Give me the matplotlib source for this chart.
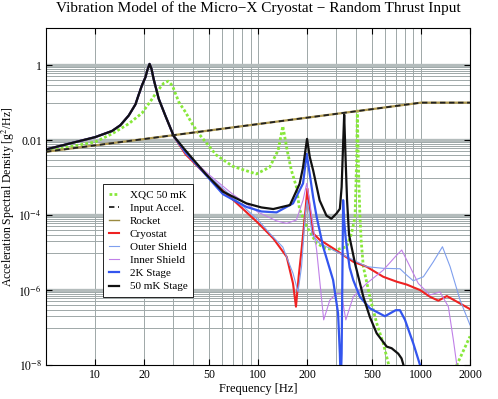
import matplotlib
matplotlib.use("Agg")
import matplotlib.pyplot as plt

plt.rcParams['font.family'] = ['Liberation Serif', 'DejaVu Serif']
plt.rcParams['mathtext.fontset'] = 'stix'

# (Hz, g^2/Hz)
f_input = [5, 20, 100, 500, 1000, 2000]
v_input = [0.0049, 0.0107, 0.0268, 0.067, 0.1, 0.1]

f_rocket = [5, 20, 100, 500, 1000, 2000]
v_rocket = [0.0049, 0.0107, 0.0268, 0.067, 0.1, 0.1]

f_xqc = [5, 10, 12.7, 16.1, 19.4, 22.4, 23.5, 25.2, 26.4, 28.1, 29.8, 31.2, 32.7,
         35.9, 39.5, 43.4, 55.5, 70, 97.7, 118, 133, 142, 151, 160, 172, 180, 199,
         229, 260, 300, 350, 375, 394, 403, 407, 410, 415, 422, 430, 443, 486, 535,
         587, 631, 700, 1500, 1660, 2000]
v_xqc = [5.1e-3, 8.9e-3, 0.0147, 0.0274, 0.0525, 0.126, 0.172, 0.259, 0.33, 0.374,
         0.287, 0.172, 0.103, 0.056, 0.027, 0.0147, 4e-3, 2e-3, 1.25e-3, 1.9e-3,
         5.4e-3, 0.0236, 5.4e-3, 1.6e-3, 5.7e-4, 1.4e-4, 5e-5, 1.76e-5, 1.3e-5,
         1.17e-5, 1.43e-5, 3.25e-5, 9e-5, 2.9e-3, 0.06, 0.01, 1e-3, 1e-4, 2e-5,
         4.2e-6, 6.6e-7, 1.3e-7, 3.8e-8, 1.1e-8, 1e-9, 1e-9, 1e-8, 5.8e-8]

# stages share the same first resonance near 21 Hz
f_low = [5, 10, 12.7, 14.3, 16.1, 17.7, 18.5, 19.4, 20.4, 20.9, 21.6, 22.2, 22.9,
         24.6, 27, 30.4]
v_low = [0.00565, 0.012, 0.0175, 0.025, 0.0455, 0.09, 0.16, 0.29, 0.48, 0.72, 1.08,
         0.8, 0.42, 0.126, 0.045, 0.0128]

f_cryo = f_low + [35.9, 50, 70, 100, 124, 150, 164, 171, 178, 185, 195, 201, 206, 218,
                  239, 289, 333, 384, 464, 587, 710, 818, 987, 1137, 1279, 1442, 1660,
                  2000]
v_cryo = v_low + [4.2e-3, 1.0e-3, 2.6e-4, 6.2e-5, 2.4e-5, 7.7e-6, 1.5e-6, 3.6e-7,
                  2.5e-6, 1.17e-5, 1.2e-4, 5.1e-4, 2e-4, 3.25e-5, 2.2e-5, 1.3e-5,
                  8.6e-6, 5.7e-6, 4.2e-6, 2.26e-6, 1.67e-6, 1.4e-6, 1e-6, 6.6e-7,
                  5.2e-7, 6.9e-7, 4.9e-7, 3.1e-7]

f_outer = f_low + [35.9, 50, 70, 100, 118, 142, 164, 176, 185, 195, 200, 206, 215,
                   239, 289, 367, 464, 587, 743, 818, 897, 1035, 1192, 1355, 1510,
                   1738, 2000]
v_outer = v_low + [4.4e-3, 1.1e-3, 3.0e-4, 7.5e-5, 3.25e-5, 1.4e-5, 2.8e-6, 9e-7,
                   4.2e-6, 1e-4, 2.5e-4, 1.2e-4, 3e-5, 1.76e-5, 1.17e-5, 7e-6,
                   4.2e-6, 3.8e-6, 3.7e-6, 2.5e-6, 1.77e-6, 2.26e-6, 5.7e-6, 1.43e-5,
                   4.2e-6, 5.4e-7, 1.17e-7]

f_inner = f_low + [35.9, 50, 70, 100, 130, 150, 172, 189, 199, 207, 229, 253, 276,
                   303, 325, 346, 384, 464, 587, 700, 762, 857, 963, 1137, 1309,
                   1473, 1582, 1660, 1720]
v_inner = v_low + [4.6e-3, 1.2e-3, 3.6e-4, 1.2e-4, 7e-5, 6e-5, 7.4e-5, 2.5e-4, 7e-4,
                   2.5e-4, 1.17e-5, 1.6e-7, 5.4e-7, 8e-7, 8e-7, 1.6e-7, 6.6e-7,
                   1.5e-6, 3.4e-6, 8e-6, 1.17e-5, 4.2e-6, 1.5e-6, 7.4e-7, 8.9e-7,
                   3.6e-7, 4.6e-8, 1e-8, 2e-9]

f_2k = f_low + [35.9, 47.7, 61, 85, 105, 130, 164, 189, 199, 208, 218, 229, 251, 289,
                310, 318, 322, 326, 330, 333, 337, 346, 365, 384, 422, 486, 601, 700,
                743, 798, 897, 987, 1050]
v_2k = v_low + [4.8e-3, 1.2e-3, 3.6e-4, 1.65e-4, 1.25e-4, 1.18e-4, 2.05e-4, 7e-4,
                4.3e-3, 1.2e-3, 3e-4, 9e-5, 1.43e-5, 1.85e-6, 2.4e-7, 2e-8, 3e-9, 2e-8,
                5e-6, 2.5e-4, 8e-5, 2.2e-5, 4e-6, 1.85e-6, 6.6e-7, 3.25e-7, 2e-7,
                2.9e-7, 2.9e-7, 1.6e-7, 3.8e-8, 1e-8, 3e-9]

f_50mk = f_low + [35.9, 47.7, 61, 85, 105, 124, 157, 180, 189, 200, 208, 218, 239,
                  263, 282, 303, 318, 326, 333, 338, 345, 352, 362, 394, 443, 486,
                  535, 616, 661, 726, 760, 800, 850]
v_50mk = v_low + [5.3e-3, 1.26e-3, 4.2e-4, 2.05e-4, 1.6e-4, 1.45e-4, 1.85e-4, 6.8e-4,
                  1.9e-3, 0.0108, 3.5e-3, 1.56e-3, 2.46e-4, 9.7e-5, 8e-5, 1.1e-4,
                  1.47e-4, 5.6e-4, 8e-3, 0.048, 2.9e-3, 2.5e-4, 3e-5, 5.1e-6, 6.6e-7,
                  1.9e-7, 7e-8, 3.1e-8, 2.8e-8, 2.0e-8, 1.5e-8, 7e-9, 3e-9]

x_ticks = [10, 20, 50, 100, 200, 500, 1000, 2000]
y_ticks = [1e-8, 1e-6, 1e-4, 1e-2, 1]
y_tick_labels = [r'$10^{-8}$', r'$10^{-6}$', r'$10^{-4}$', '0.01', '1']

fig = plt.figure(figsize=(4.98, 3.99), dpi=100)
ax = fig.add_axes([46 / 498, 34 / 399, 424 / 498, 337.3 / 399])
ax.set_xscale('log')
ax.set_yscale('log')
ax.set_xlim(5, 2000)
ax.set_ylim(1e-8, 10)

# Mathematica-like grid
grid_c = '#9ea8a8'
for x in list(range(10, 100, 10)) + list(range(100, 1100, 100)):
    ax.axvline(x, color=grid_c, lw=0.7, zorder=0)
for e in [0, -2, -4, -6]:
    ax.axhline(10.0 ** e, color='#b4bcbc', lw=2.4, zorder=0)
    for m in range(1, 10):
        ax.axhline(m * 10.0 ** (e - 1), color=grid_c, lw=0.7, zorder=0)

ax.plot(f_xqc, v_xqc, color='#88e83a', lw=2.0, ls=(0, (1, 0.8)), label='XQC 50 mK')
ax.plot(f_rocket, v_rocket, color='#b09a50', lw=1.6, zorder=2)
ax.plot(f_input, v_input, color='#222222', lw=1.3, ls=(0, (3, 2)), label='Input Accel.', zorder=3)
ax.plot([], [], color='#9a8a40', lw=1.0, label='Rocket')
ax.plot(f_cryo, v_cryo, color='#ee2222', lw=1.5, label='Cryostat')
ax.plot(f_outer, v_outer, color='#7f9fee', lw=0.8, label='Outer Shield')
ax.plot(f_inner, v_inner, color='#c080e8', lw=0.8, label='Inner Shield')
ax.plot(f_2k, v_2k, color='#3355ee', lw=1.6, label='2K Stage')
ax.plot(f_50mk, v_50mk, color='#111111', lw=1.6, label='50 mK Stage')

ax.set_xticks(x_ticks)
ax.set_xticklabels([str(x) for x in x_ticks])
ax.set_yticks(y_ticks)
ax.set_yticklabels(y_tick_labels)
ax.minorticks_off()
ax.tick_params(direction='in', length=4, labelsize=8.5, pad=3, top=True, right=True)

ax.set_xlabel('Frequency [Hz]', fontsize=9)
ax.xaxis.set_label_coords(0.5, -0.052)
ax.set_ylabel(r'Acceleration Spectral Density [g$^2$/Hz]', fontsize=8.5)
ax.yaxis.set_label_coords(-0.068, 0.5)
ax.text(0.5, 1.058, 'Vibration Model of the Micro\u2212X Cryostat \u2212 Random Thrust Input',
        transform=ax.transAxes, ha='center', va='center', fontsize=11)

leg = ax.legend(loc='upper left', bbox_to_anchor=(0.122, 0.552), fontsize=8,
                handlelength=0.9, handletextpad=1.0, labelspacing=0.3,
                borderpad=0.5, fancybox=False, framealpha=1, edgecolor='black')
leg.get_frame().set_linewidth(0.6)

fig.savefig('out.png', dpi=100)
